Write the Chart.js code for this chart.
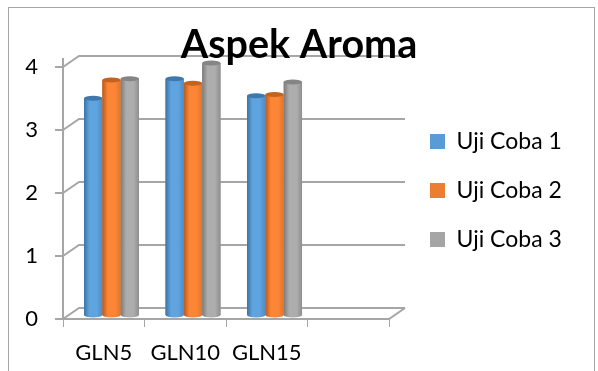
<!DOCTYPE html>
<html lang="en">
<head>
  <meta charset="UTF-8" />
  <title>Aspek Aroma</title>
  <script src="https://cdn.jsdelivr.net/npm/chart.js"></script>
  <style>
    html, body { margin: 0; background: #fff; overflow: hidden; }
    #frame { position: absolute; left: 8px; top: 7px; width: 585px; height: 400px; border: 1px solid #a6a6a6; }
    #resultChart { position: absolute; left: 0; top: 0; }
  </style>
</head>
<body>
  <div id="frame"></div>
  <canvas id="resultChart" width="598" height="371"></canvas>

  <script>
    // last slot is empty in the original chart
    const categories = ['GLN5', 'GLN10', 'GLN15', ''];
    const uji1 = [3.44, 3.75, 3.48];
    const uji2 = [3.73, 3.68, 3.5];
    const uji3 = [3.75, 4.0, 3.7];

    const legendColors = ['#5B9BD5', '#ED7D31', '#A5A5A5'];
    // edge, middle, far edge, cap
    const barShades = [
      ['#3c74a6', '#5fa3df', '#4f8cc4', '#3f78ab'],
      ['#b85a1e', '#fc8636', '#e0742c', '#c4621f'],
      ['#7b7b7b', '#adadad', '#8f8f8f', '#858585']
    ];

    const depthX = 16;
    const depthY = 11;

    function points(values) {
      return values.map((v, i) => ({ x: i, y: v }));
    }

    // back wall of the fake 3D box, taken from the visible axes
    const wallPlugin = {
      id: 'wall',
      beforeDraw(chart) {
        const ctx = chart.ctx;
        const { left, right } = chart.chartArea;
        const y = chart.scales.y;
        ctx.save();
        ctx.strokeStyle = '#a6a6a6';
        ctx.lineWidth = 2;
        y.ticks.forEach(t => {
          const py = y.getPixelForValue(t.value);
          ctx.beginPath();
          ctx.moveTo(left, py);
          ctx.lineTo(left + depthX, py - depthY);
          ctx.lineTo(right + depthX, py - depthY);
          ctx.stroke();
        });
        const py0 = y.getPixelForValue(0);
        ctx.beginPath();
        ctx.moveTo(left, py0);
        ctx.lineTo(right, py0);
        ctx.lineTo(right + depthX, py0 - depthY);
        ctx.stroke();
        ctx.restore();
      }
    };

    // paints the bars as cylinders on top of the library's bar rectangles
    const cylinderPlugin = {
      id: 'cylinder',
      afterDatasetsDraw(chart) {
        const ctx = chart.ctx;
        chart.data.datasets.forEach((ds, d) => {
          const shades = barShades[d];
          chart.getDatasetMeta(d).data.forEach(el => {
            const l = el.x - el.width / 2;
            const r = el.x + el.width / 2;
            const g = ctx.createLinearGradient(l, 0, r, 0);
            g.addColorStop(0, shades[0]);
            g.addColorStop(0.3, shades[1]);
            g.addColorStop(0.7, shades[1]);
            g.addColorStop(1, shades[2]);
            ctx.save();
            ctx.fillStyle = g;
            ctx.fillRect(l, el.y, el.width, el.base - el.y);
            ctx.beginPath();
            ctx.ellipse(el.x, el.base, el.width / 2, 2.5, 0, 0, Math.PI * 2);
            ctx.fill();
            ctx.fillStyle = shades[3];
            ctx.beginPath();
            ctx.ellipse(el.x, el.y, el.width / 2, 2.5, 0, 0, Math.PI * 2);
            ctx.fill();
            ctx.restore();
          });
        });
      }
    };

    // the layout caps a side legend's width, so it gets moved next to the box afterwards
    const legendPlugin = {
      id: 'legendSpot',
      afterLayout(chart) {
        const lg = chart.legend;
        lg.left = 404;
        lg.right = 598;
        lg.width = 194;
        lg.top -= 2;
        lg.bottom -= 2;
      }
    };

    function dataset(label, values, i) {
      return {
        label: label,
        data: points(values),
        backgroundColor: legendColors[i],
        borderWidth: 0,
        xAxisID: 'xBars',
        yAxisID: 'yBars',
        categoryPercentage: 0.675,
        barPercentage: 1
      };
    }

    new Chart(document.getElementById('resultChart').getContext('2d'), {
      type: 'bar',
      data: {
        labels: categories,
        datasets: [
          dataset('Uji Coba 1', uji1, 0),
          dataset('Uji Coba 2', uji2, 1),
          dataset('Uji Coba 3', uji3, 2)
        ]
      },
      plugins: [wallPlugin, cylinderPlugin, legendPlugin],
      options: {
        responsive: false,
        animation: false,
        layout: { padding: { left: 0, top: 14, right: 0, bottom: 0 } },
        plugins: {
          tooltip: { enabled: false },
          title: {
            display: true,
            text: 'Aspek Aroma',
            color: '#000',
            font: { family: 'Lato', size: 39.5, weight: 'bold', lineHeight: 0.7 },
            padding: { top: 17.2, bottom: 0 }
          },
          legend: {
            position: 'right',
            labels: {
              color: '#000',
              font: { family: 'Lato', size: 23 },
              boxWidth: 15,
              boxHeight: 15,
              padding: 26
            }
          }
        },
        scales: {
          x: {
            type: 'category',
            offset: true,
            grid: { offset: true, drawOnChartArea: false, color: '#a6a6a6', tickLength: 8 },
            border: { color: '#a6a6a6', width: 2 },
            ticks: { color: '#000', font: { family: 'Lato', size: 22 }, padding: 13, maxRotation: 0, autoSkip: false },
            afterFit(scale) { scale.height = 52; }
          },
          y: {
            position: 'left',
            min: 0,
            max: 4.13,
            grid: { drawOnChartArea: false, color: '#a6a6a6', tickLength: 8, lineWidth: 2 },
            border: { color: '#a6a6a6', width: 2 },
            ticks: { color: '#000', font: { family: 'Lato', size: 22 }, padding: 17, stepSize: 1, includeBounds: false },
            afterFit(scale) { scale.width = 63; }
          },
          // bars stand inside the box, so they sit on scales shifted from the front axes
          xBars: {
            type: 'linear',
            axis: 'x',
            display: false,
            offset: false,
            grid: { offset: false },
            ticks: { stepSize: 1, includeBounds: false },
            min: -0.595,
            max: 3.405
          },
          yBars: {
            type: 'linear',
            axis: 'y',
            position: 'right',
            min: -0.0635,
            max: 4.067,
            grid: { display: false },
            border: { display: false },
            ticks: { display: false },
            // keeps the box at its width beside the legend
            afterFit(scale) { scale.width = 109.3; }
          }
        }
      }
    });
  </script>
</body>
</html>
